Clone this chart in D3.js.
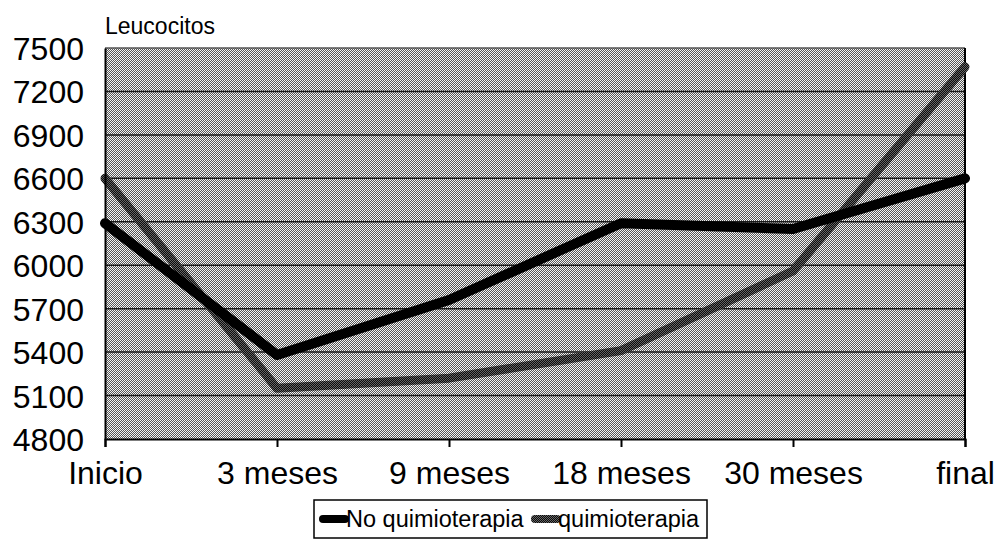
<!DOCTYPE html>
<html>
<head>
<meta charset="utf-8">
<script src="https://cdn.jsdelivr.net/npm/d3@7"></script>
<style>
  body { margin: 0; background: #fff; }
  text { font-family: "Liberation Sans", Arial, sans-serif; fill: #000; }
</style>
</head>
<body>
<div id="chart"></div>
<script>
const width = 998
const height = 540
const margin = {
  top: 48,
  bottom: 101,
  left: 105,
  right: 33,
}

// Datos
const categories = ["Inicio", "3 meses", "9 meses", "18 meses", "30 meses", "final"]
const noQuimio = [6290, 5380, 5760, 6290, 6250, 6600]
const quimio = [6600, 5150, 5220, 5410, 5960, 7370]
const yTicks = [4800, 5100, 5400, 5700, 6000, 6300, 6600, 6900, 7200, 7500]
const seriesNames = ["No quimioterapia", "quimioterapia"]

const svg = d3.select("div#chart")
    .append("svg")
    .attr("width", width)
    .attr("height", height)

// Patrones de trama (fondo y serie gris)
const defs = svg.append("defs")
const bgPat = defs.append("pattern")
  .attr("id", "bgDither")
  .attr("patternUnits", "userSpaceOnUse")
  .attr("width", 2).attr("height", 2)
bgPat.append("rect").attr("width", 2).attr("height", 2).attr("fill", "#f4f4f4")
bgPat.append("rect").attr("width", 1).attr("height", 1).attr("fill", "#555")
bgPat.append("rect").attr("x", 1).attr("y", 1).attr("width", 1).attr("height", 1).attr("fill", "#555")

const lnPat = defs.append("pattern")
  .attr("id", "lineDither")
  .attr("patternUnits", "userSpaceOnUse")
  .attr("width", 2).attr("height", 2)
lnPat.append("rect").attr("width", 2).attr("height", 2).attr("fill", "#666")
lnPat.append("rect").attr("width", 1).attr("height", 1).attr("fill", "#0a0a0a")
lnPat.append("rect").attr("x", 1).attr("y", 1).attr("width", 1).attr("height", 1).attr("fill", "#0a0a0a")

const innerW = width - margin.left - margin.right
const innerH = height - margin.top - margin.bottom

const elementGroup = svg.append("g")
  .attr("id", "elementGroup")
  .attr("transform", `translate(${margin.left}, ${margin.top})`)

const axisGroup = svg.append("g").attr("id", "axisGroup")

const xAxisGroup = axisGroup.append("g")
  .attr("id", "xAxisGroup")
  .attr("transform", `translate(${margin.left}, ${height - margin.bottom})`)

const yAxisGroup = axisGroup.append("g")
  .attr("id", "yAxisGroup")
  .attr("transform", `translate(${margin.left}, ${margin.top})`)

// Escalas
const x = d3.scalePoint().domain(categories).range([0, innerW])
const y = d3.scaleLinear().domain([4800, 7500]).range([innerH, 0])

// Fondo tramado
elementGroup.append("rect")
  .attr("width", innerW)
  .attr("height", innerH)
  .attr("fill", "url(#bgDither)")

// Rejilla
elementGroup.selectAll("line.grid").data(yTicks.filter(d => d > 4800 && d < 7500))
  .join("line")
  .attr("class", "grid")
  .attr("x1", 0).attr("x2", innerW)
  .attr("y1", d => y(d)).attr("y2", d => y(d))
  .attr("stroke", "#1a1a1a")
  .attr("stroke-width", 1.5)

// Borde
elementGroup.append("line")
  .attr("x1", 0).attr("x2", innerW).attr("y1", 0).attr("y2", 0)
  .attr("stroke", "#555").attr("stroke-width", 1.5)
elementGroup.append("line")
  .attr("x1", innerW).attr("x2", innerW).attr("y1", 0).attr("y2", innerH)
  .attr("stroke", "#000").attr("stroke-width", 2)

// Ejes
const xAxis = d3.axisBottom(x).tickSize(8).tickPadding(14)
const yAxis = d3.axisLeft(y).tickValues(yTicks).tickFormat(d3.format("d")).tickSize(0).tickPadding(21)

xAxisGroup.call(xAxis)
yAxisGroup.call(yAxis)

axisGroup.selectAll(".domain").attr("stroke", "#000").attr("stroke-width", 2)
axisGroup.selectAll(".tick line").attr("stroke", "#000").attr("stroke-width", 2)
axisGroup.selectAll("text")
  .attr("font-family", '"Liberation Sans", Arial, sans-serif')
  .attr("font-size", 32)
  .attr("fill", "#000")
yAxisGroup.selectAll("text").attr("dy", "0.36em")
xAxisGroup.selectAll("text").attr("dy", "0.71em")

// Líneas
const line = d3.line()
  .x((d, i) => x(categories[i]))
  .y(d => y(d))

elementGroup.append("path")
  .datum(quimio)
  .attr("d", line)
  .attr("fill", "none")
  .attr("stroke", "url(#lineDither)")
  .attr("stroke-width", 9)
  .attr("stroke-linejoin", "round")
  .attr("stroke-linecap", "round")

elementGroup.append("path")
  .datum(noQuimio)
  .attr("d", line)
  .attr("fill", "none")
  .attr("stroke", "#000")
  .attr("stroke-width", 10)
  .attr("stroke-linejoin", "round")
  .attr("stroke-linecap", "round")

// Título del eje
svg.append("text")
  .attr("x", margin.left)
  .attr("y", 34)
  .attr("font-size", 23)
  .text("Leucocitos")

// Leyenda
const legend = svg.append("g").attr("transform", "translate(314, 500)")
legend.append("rect")
  .attr("width", 393).attr("height", 38)
  .attr("fill", "#fff").attr("stroke", "#000").attr("stroke-width", 1.5)

const legendX = [6, 218]
const legendItems = legend.selectAll("g.item").data(seriesNames)
  .join("g")
  .attr("class", "item")
  .attr("transform", (d, i) => `translate(${legendX[i]}, 19)`)

legendItems.append("line")
  .attr("x1", 3).attr("x2", 25)
  .attr("stroke", (d, i) => i === 0 ? "#000" : "url(#lineDither)")
  .attr("stroke-width", 8)
  .attr("stroke-linecap", "round")

legendItems.append("text")
  .attr("x", 26)
  .attr("dy", "0.36em")
  .attr("font-size", 23.5)
  .text(d => d)
</script>
</body>
</html>
